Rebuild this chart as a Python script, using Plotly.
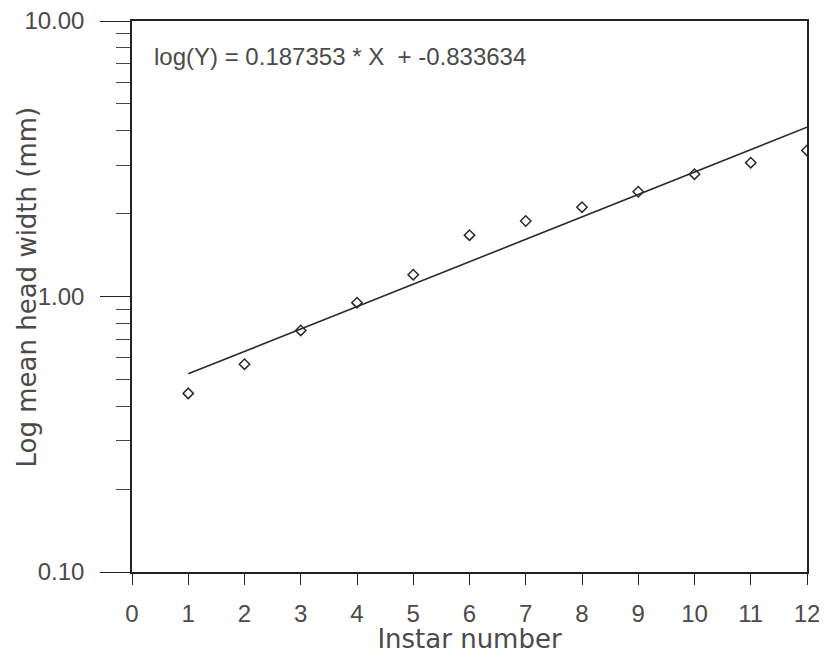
import math
import plotly.graph_objects as go

instar = [1, 2, 3, 4, 5, 6, 7, 8, 9, 10, 11, 12]
head_width = [0.445, 0.568, 0.753, 0.95, 1.20, 1.67, 1.88, 2.11, 2.40, 2.78, 3.06, 3.39]

slope = 0.187353
intercept = -0.833634
fit_x = [1, 12]
fit_y = [math.exp(slope * x + intercept) for x in fit_x]

x_ticks = list(range(0, 13))
y_tickvals = [0.1, 1, 10]
y_ticktext = ["0.10", "1.00", "10.00"]

txt = "#4a4a4a"
fnt = "Liberation Sans, Arial, sans-serif"
tfnt = "DejaVu Sans, Verdana, sans-serif"

fig = go.Figure()
fig.add_trace(go.Scatter(x=fit_x, y=fit_y, mode="lines",
                         line=dict(color="#2a2a2a", width=1.6), showlegend=False))
fig.add_trace(go.Scatter(x=instar, y=head_width, mode="markers",
                         marker=dict(symbol="diamond-open", size=8, color="#2a2a2a",
                                     line=dict(width=1.5)),
                         showlegend=False))

fig.update_layout(
    width=811, height=646,
    margin=dict(l=124, r=12, t=13, b=82, autoexpand=False),
    paper_bgcolor="white", plot_bgcolor="white",
    font=dict(family=fnt, color=txt, size=24),
    xaxis=dict(range=[0, 12], tickvals=x_ticks, ticks="outside", ticklen=11,
               tickcolor="#222", tickwidth=1.2, automargin=False,
               showline=True, linecolor="#222", linewidth=1.5, mirror=True,
               showgrid=False, zeroline=False, ticklabeloverflow="allow",
               tickfont=dict(size=24, color=txt, family=fnt),
               ticklabelstandoff=8,
               title=dict(text="Instar number", font=dict(size=26, color=txt, family=tfnt), standoff=4)),
    yaxis=dict(type="log", range=[-1, 1], tickvals=y_tickvals, ticktext=y_ticktext,
               ticks="outside", ticklen=30, tickcolor="#222", tickwidth=1.2, automargin=False,
               showline=True, linecolor="#222", linewidth=1.5, mirror=True,
               showgrid=False, zeroline=False, ticklabeloverflow="allow",
               tickfont=dict(size=24, color=txt, family=fnt),
               ticklabelstandoff=11,
               minor=dict(ticks="outside", ticklen=14, tickcolor="#444", dtick="D1", showgrid=False)),
)

fig.add_annotation(x=0, y=0.5, xref="paper", yref="paper", xanchor="center", yanchor="middle",
                   xshift=-106, yshift=9, textangle=-90, showarrow=False,
                   text="Log mean head width (mm)",
                   font=dict(size=26, color=txt, family=tfnt))

fig.add_annotation(x=0, y=1, xref="paper", yref="paper", xanchor="left", yanchor="middle",
                   xshift=20, yshift=-35, showarrow=False,
                   text="log(Y) = 0.187353 * X  + -0.833634",
                   font=dict(size=24, color=txt, family=fnt))

fig.write_html("out.html")
